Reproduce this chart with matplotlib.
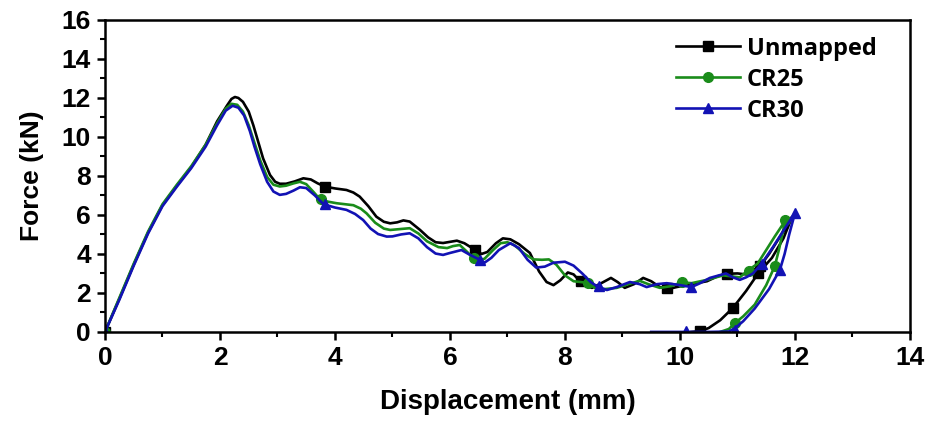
import matplotlib
matplotlib.use("Agg")
import matplotlib.pyplot as plt
from matplotlib.lines import Line2D
from matplotlib.ticker import MultipleLocator

plt.rcParams['font.family'] = ['Liberation Sans', 'DejaVu Sans']

# Unmapped: loading then unloading branch
unm_x = [0, 0.25, 0.5, 0.75, 1.0, 1.25, 1.5, 1.75, 1.95, 2.12, 2.2, 2.26, 2.32, 2.4,
         2.5, 2.58, 2.67, 2.75, 2.87, 2.96, 3.04, 3.15, 3.3, 3.45, 3.58, 3.7, 3.83,
         4.0, 4.2, 4.32, 4.43, 4.58, 4.72, 4.85, 4.96, 5.08, 5.19, 5.3, 5.48, 5.62,
         5.75, 5.88, 6.0, 6.12, 6.25, 6.43, 6.55, 6.65, 6.8, 6.92, 7.05, 7.2, 7.39,
         7.55, 7.68, 7.8, 7.92, 8.05, 8.15, 8.26, 8.37, 8.47, 8.6, 8.8, 8.92, 9.04,
         9.2, 9.36, 9.5, 9.65, 9.8, 9.94, 10.2, 10.47, 10.65, 10.8, 11.0, 11.15,
         11.3, 11.4, 11.55, 11.7, 11.85, 11.95,
         11.8, 11.6, 11.36, 11.15, 10.92, 10.7, 10.5, 10.35, 10.2]
unm_y = [0, 1.7, 3.45, 5.1, 6.5, 7.5, 8.45, 9.6, 10.8, 11.6, 11.95, 12.05, 12.0, 11.8,
         11.3, 10.6, 9.7, 8.9, 8.05, 7.7, 7.6, 7.6, 7.72, 7.88, 7.82, 7.62, 7.45,
         7.36, 7.28, 7.15, 6.94, 6.45, 5.91, 5.65, 5.57, 5.62, 5.72, 5.66, 5.23, 4.85,
         4.6, 4.56, 4.62, 4.68, 4.55, 4.22, 4.0, 4.1, 4.55, 4.8, 4.75, 4.5, 4.05,
         3.1, 2.56, 2.4, 2.65, 3.05, 2.95, 2.6, 2.35, 2.26, 2.45, 2.77, 2.55, 2.26,
         2.45, 2.77, 2.6, 2.3, 2.2, 2.3, 2.45, 2.6, 2.85, 2.98, 3.0, 2.95,
         3.1, 3.4, 4.0, 4.7, 5.4, 5.9,
         4.8, 3.8, 3.0, 2.1, 1.23, 0.6, 0.2, 0.04, 0.0]
unm_mx = [0, 3.83, 6.43, 8.28, 9.78, 10.82, 11.4, 11.36, 10.92, 10.35]
unm_my = [0, 7.45, 4.22, 2.6, 2.25, 2.97, 3.4, 3.0, 1.23, 0.04]

# CR25
cr25_x = [0, 0.25, 0.5, 0.75, 1.0, 1.25, 1.5, 1.75, 1.95, 2.1, 2.2, 2.3, 2.4, 2.5,
          2.6, 2.7, 2.82, 2.93, 3.04, 3.15, 3.28, 3.39, 3.5, 3.62, 3.74, 3.88, 4.03,
          4.32, 4.45, 4.55, 4.7, 4.85, 4.96, 5.15, 5.3, 5.45, 5.6, 5.8, 5.95, 6.05,
          6.17, 6.3, 6.4, 6.5, 6.6, 6.75, 6.88, 7.0, 7.12, 7.3, 7.45, 7.6, 7.72, 7.85,
          8.0, 8.15, 8.3, 8.4, 8.55, 8.7, 8.9, 9.1, 9.3, 9.45, 9.65, 9.85, 10.03,
          10.2, 10.47, 10.75, 11.04, 11.18, 11.35, 11.5, 11.65, 11.83,
          11.78, 11.72, 11.65, 11.5, 11.3, 11.1, 10.96, 10.85, 10.7]
cr25_y = [0, 1.75, 3.5, 5.15, 6.55, 7.55, 8.5, 9.6, 10.7, 11.45, 11.7, 11.65, 11.3, 10.6,
          9.7, 8.8, 7.95, 7.55, 7.46, 7.5, 7.62, 7.7, 7.58, 7.2, 6.8, 6.68, 6.6,
          6.5, 6.32, 6.08, 5.6, 5.3, 5.23, 5.28, 5.32, 5.05, 4.65, 4.35, 4.3, 4.4,
          4.46, 4.1, 3.8, 3.7, 3.75, 4.2, 4.55, 4.6, 4.45, 4.0, 3.72, 3.7, 3.72, 3.45,
          2.9, 2.6, 2.55, 2.5, 2.2, 2.2, 2.26, 2.45, 2.62, 2.45, 2.26, 2.35, 2.55,
          2.5, 2.67, 2.9, 2.8, 3.15, 3.5, 4.2, 4.9, 5.7,
          5.0, 4.2, 3.38, 2.4, 1.4, 0.8, 0.46, 0.15, 0.0]
cr25_mx = [0, 3.76, 6.42, 8.4, 10.03, 11.2, 11.83, 11.65, 10.96]
cr25_my = [0, 6.8, 3.78, 2.5, 2.55, 3.12, 5.72, 3.38, 0.46]

# CR30
cr30_x = [0, 0.25, 0.5, 0.75, 1.0, 1.25, 1.5, 1.75, 1.95, 2.1, 2.22, 2.32, 2.42, 2.52,
          2.6, 2.7, 2.82, 2.93, 3.04, 3.15, 3.28, 3.39, 3.5, 3.65, 3.8, 4.0, 4.2,
          4.35, 4.49, 4.62, 4.75, 4.9, 5.0, 5.15, 5.3, 5.45, 5.6, 5.75, 5.88, 6.0,
          6.2, 6.35, 6.52, 6.6, 6.72, 6.85, 7.05, 7.2, 7.35, 7.5, 7.65, 7.8, 8.0, 8.15,
          8.3, 8.45, 8.58, 8.73, 8.9, 9.13, 9.3, 9.42, 9.6, 9.77, 10.0, 10.2, 10.35,
          10.52, 10.8, 10.92, 11.04, 11.15, 11.27, 11.42, 11.62, 11.8, 12.0,
          11.9, 11.82, 11.74, 11.55, 11.3, 11.1, 10.96, 10.85, 10.5, 10.1, 9.5]
cr30_y = [0, 1.65, 3.4, 5.05, 6.45, 7.45, 8.4, 9.5, 10.6, 11.35, 11.6, 11.5, 11.1, 10.3,
          9.5, 8.6, 7.7, 7.2, 7.03, 7.08, 7.25, 7.42, 7.38, 7.0, 6.55, 6.38, 6.26,
          6.05, 5.74, 5.3, 5.02, 4.89, 4.9, 5.0, 5.06, 4.8, 4.35, 4.02, 3.95, 4.05,
          4.2, 3.95, 3.7, 3.55, 3.8, 4.2, 4.55, 4.3, 3.7, 3.3, 3.35, 3.55, 3.6, 3.4,
          3.0, 2.55, 2.3, 2.15, 2.3, 2.56, 2.45, 2.3, 2.45, 2.5, 2.4, 2.3, 2.5,
          2.77, 3.0, 2.8, 2.67, 2.8, 3.0, 3.5, 4.36, 5.2, 6.1,
          5.0, 4.0, 3.2, 2.2, 1.2, 0.55, 0.2, 0.02, 0.0, 0.0, 0.0]
cr30_mx = [0, 3.82, 6.52, 8.6, 10.2, 11.42, 12.0, 11.74, 10.96, 10.1]
cr30_my = [0, 6.55, 3.7, 2.35, 2.3, 3.5, 6.1, 3.2, 0.1, 0.05]

labels = ['Unmapped', 'CR25', 'CR30']
colors = ['#000000', '#1a8c1a', '#1212b4']
markers = ['s', 'o', '^']

fig = plt.figure(figsize=(9.29, 4.25), dpi=100)
ax = fig.add_axes([0.113, 0.219, 0.8665, 0.734])

series = [(unm_x, unm_y, unm_mx, unm_my),
          (cr25_x, cr25_y, cr25_mx, cr25_my),
          (cr30_x, cr30_y, cr30_mx, cr30_my)]
handles = []
for (x, y, mx, my), lab, c, m in zip(series, labels, colors, markers):
    ax.plot(x, y, color=c, lw=1.9, solid_joinstyle='round')
    ax.plot(mx, my, ls='none', marker=m, color=c, ms=7)
    handles.append(Line2D([], [], color=c, lw=1.9, marker=m, ms=7))

ax.set_xlim(0, 14)
ax.set_ylim(0, 16)
ax.xaxis.set_major_locator(MultipleLocator(2))
ax.xaxis.set_minor_locator(MultipleLocator(1))
ax.yaxis.set_major_locator(MultipleLocator(2))
ax.yaxis.set_minor_locator(MultipleLocator(1))
ax.tick_params(which='major', direction='out', length=6, width=1.8, labelsize=19, pad=4)
ax.tick_params(which='minor', direction='out', length=3.5, width=1.5)
for lbl in ax.get_xticklabels() + ax.get_yticklabels():
    lbl.set_fontweight('bold')
for sp in ax.spines.values():
    sp.set_linewidth(1.8)

ax.set_xlabel('Displacement (mm)', fontsize=20, fontweight='bold', labelpad=14)
ax.set_ylabel('Force (kN)', fontsize=19, fontweight='bold', labelpad=13)

leg = ax.legend(handles, labels, loc='upper right', bbox_to_anchor=(0.985, 1.015),
                frameon=False, handlelength=2.7, handletextpad=0.3, labelspacing=0.3,
                prop={'family': ['Open Sans', 'DejaVu Sans'], 'weight': 'bold', 'size': 17})

fig.savefig('out.png', dpi=100)
